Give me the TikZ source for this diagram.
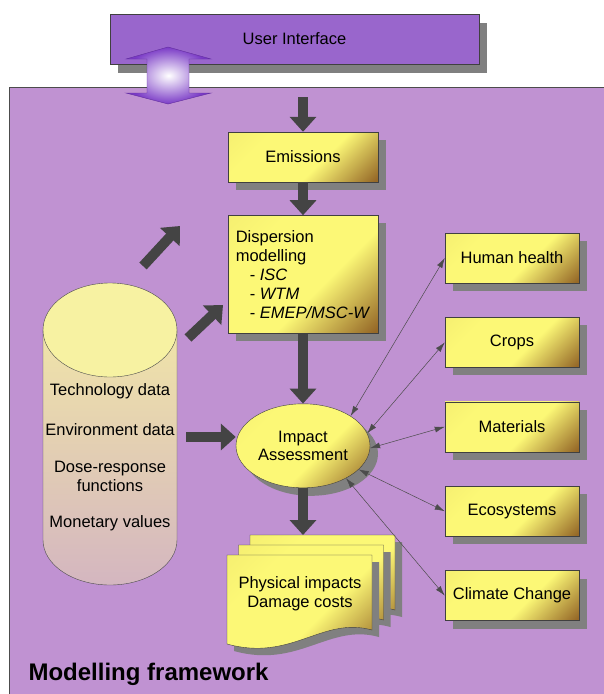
\documentclass[tikz,border=0pt]{standalone}
\usepackage{fontspec}
\setmainfont{Liberation Sans}
\usetikzlibrary{positioning,shapes.geometric,arrows.meta,shadows}

\definecolor{framepurple}{RGB}{192,146,210}
\definecolor{uipurple}{RGB}{153,102,204}
\definecolor{arrowpurple}{RGB}{122,58,198}
\definecolor{boxyellow}{RGB}{252,248,118}
\definecolor{boxbrown}{RGB}{150,105,40}
\definecolor{arrowgray}{RGB}{68,68,68}
\definecolor{shadowgray}{RGB}{128,128,128}
\definecolor{dbtop}{RGB}{247,242,162}
\definecolor{dbmid}{RGB}{240,228,168}
\definecolor{dbbottom}{RGB}{212,182,192}

\pgfdeclareverticalshading{boxshade}{100bp}{color(0bp)=(boxbrown); color(16bp)=(boxbrown); color(42bp)=(boxyellow); color(70bp)=(boxyellow); color(100bp)=(boxyellow!88!boxbrown)}

\tikzset{
    ybox/.style ={
        shape=rectangle,
        draw=black!75,
        shading=boxshade,
        shading angle=45,
        drop shadow={shadow xshift=8pt,shadow yshift=-8pt,fill=shadowgray,opacity=1},
        minimum width=150pt,
        minimum height=50pt,
        font=\fontsize{16.5}{19}\selectfont
    },
    ellbox/.style ={
        ybox,
        shape=ellipse,
        minimum width=134pt,
        minimum height=84pt,
        inner sep=0pt,
        align=center,
        font=\fontsize{16.5}{18}\selectfont
    },
    docbox/.style ={
        draw=black!75,
        shading=boxshade,
        shading angle=45,
        drop shadow={shadow xshift=7pt,shadow yshift=-7pt,fill=shadowgray,opacity=1}
    },
    uibox/.style ={
        shape=rectangle,
        draw=black!75,
        fill=uipurple,
        drop shadow={shadow xshift=8pt,shadow yshift=-9pt,fill=shadowgray,opacity=1},
        minimum width=369pt,
        minimum height=50pt,
        font=\fontsize{16.5}{19}\selectfont
    },
    fatarrow/.style ={
        draw=arrowgray,
        line width=10pt,
        -{Triangle[width=26pt,length=15pt]}
    },
    thinarrow/.style ={
        draw=black!70,
        line width=0.5pt,
        {Latex[length=10pt,width=6pt]}-{Latex[length=10pt,width=6pt]}
    },
    dbtext/.style ={
        font=\fontsize{16.5}{19}\selectfont,
        align=center
    }
}

\begin{document}
\begin{tikzpicture}[x=1pt,y=-1pt]
    \useasboundingbox (0,0) rectangle (604,694);
    % framework
    \fill[framepurple,draw=black!70] (9,87) rectangle (620,710);
    \node[anchor=base west,font=\fontsize{24}{28}\selectfont\bfseries] (fwlabel) at (25,680) {Modelling framework};
    % user interface
    \node[uibox] (ui) at (294.5,39) {User Interface};
    \path[inner color=white,outer color=arrowpurple,draw=arrowpurple!80!black,line width=0.4pt]
        (168,47) -- (211,59) -- (189,59) -- (189,93) -- (211,93) -- (168,104)
        -- (126,93) -- (147,93) -- (147,59) -- (126,59) -- cycle;
    % database
    \draw[black!70,top color=dbmid,bottom color=dbbottom] (43,330) -- (43,540)
        arc[start angle=180,end angle=360,x radius=67pt,y radius=45pt] -- (177,330) -- cycle;
    \draw[black!70,fill=dbtop] (110,330) ellipse[x radius=67pt,y radius=47pt];
    \node[dbtext] (tech) at (110,391) {Technology data};
    \node[dbtext] (env) at (110,430) {Environment data};
    \node[dbtext] (dose) at (110,476) {Dose-response\\functions};
    \node[dbtext] (money) at (110,523) {Monetary values};
    \coordinate (dbout) at (186,437);
    \coordinate (up1s) at (143,266);
    \coordinate (up1e) at (180,226);
    \coordinate (up2s) at (188,338);
    \coordinate (up2e) at (223,305);
    % main column
    \coordinate (fwin) at (303,97);
    \node[ybox] (emis) at (303,157) {Emissions};
    \node[ybox,below=33pt of emis,minimum height=118pt,align=left] (disp) {Dispersion\\modelling\\\hspace{14pt}- \textit{ISC}\\\hspace{14pt}- \textit{WTM}\\\hspace{14pt}- \textit{EMEP/MSC-W}};
    \node[ellbox,below=70pt of disp] (impact) {Impact\\Assessment};
    \foreach \s in {2,1,0}
        \draw[docbox,shift={(11.5*\s,-10*\s)}] (227,555) -- (372,555) -- (372,630)
            .. controls (322,616) and (292,662) .. (227,644) -- cycle;
    \node[dbtext] (phys) at (300,594) {Physical impacts\\Damage costs};
    \coordinate (doctop) at (303,535);
    % receptors
    \node[ybox,minimum width=134pt] (health) at (512,258) {Human health};
    \node[ybox,minimum width=134pt,below=34pt of health] (crops) {Crops};
    \node[ybox,minimum width=134pt,below=34pt of crops] (materials) {Materials};
    \node[ybox,minimum width=134pt,below=34pt of materials] (eco) {Ecosystems};
    \node[ybox,minimum width=134pt,below=34pt of eco] (climate) {Climate Change};
    % connectors
    \draw[fatarrow] (fwin) -- (emis);
    \draw[fatarrow] (emis) -- (disp);
    \draw[fatarrow] (disp) -- (impact);
    \draw[fatarrow] (impact) -- (doctop);
    \draw[fatarrow] (dbout) -- (dbout -| impact.west);
    \draw[fatarrow] (up1s) -- (up1e);
    \draw[fatarrow] (up2s) -- (up2e);
    \draw[thinarrow] (impact.32) -- (health.west);
    \draw[thinarrow] (impact.11) -- (crops.west);
    \draw[thinarrow] (impact.-2) -- (materials.west);
    \draw[thinarrow] (impact.-23) -- (eco.west);
    \draw[thinarrow] (impact.-37) -- (climate.west);
\end{tikzpicture}
\end{document}
